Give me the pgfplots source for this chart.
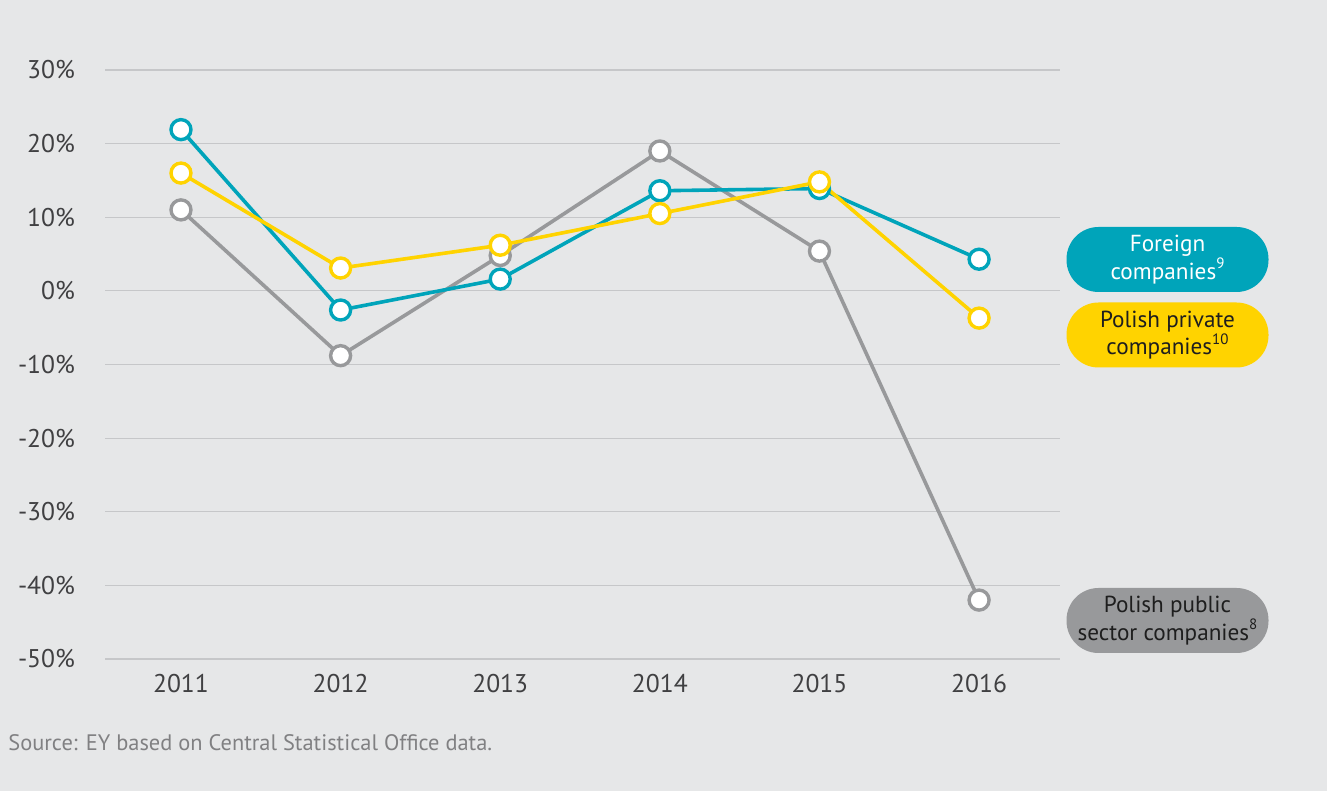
\documentclass[border=0pt]{standalone}
\usepackage{pgfplots}
\pgfplotsset{compat=1.18}
\usepackage{fontspec}
\setmainfont{PT Sans}
\definecolor{bg}{RGB}{230,231,232}
\definecolor{gridc}{RGB}{198,199,201}
\definecolor{teal}{RGB}{0,164,186}
\definecolor{eyyellow}{RGB}{255,211,0}
\definecolor{eygrey}{RGB}{152,153,155}
\definecolor{ticktxt}{RGB}{64,64,66}
\definecolor{srctxt}{RGB}{128,128,130}
\definecolor{darktxt}{RGB}{30,30,30}
\begin{document}
\begin{tikzpicture}
\path[use as bounding box, fill=bg] (0,0) rectangle (663.5pt,395.5pt);
\begin{axis}[
  at={(52.5pt,66pt)}, anchor=south west,
  scale only axis, width=477.5pt, height=294.5pt,
  xmin=2010.524, xmax=2016.507, ymin=-50, ymax=30,
  axis line style={draw=none},
  tick style={draw=none},
  ytick={-50,-40,-30,-20,-10,0,10,20,30},
  yticklabels={-50\%,-40\%,-30\%,-20\%,-10\%,0\%,10\%,20\%,30\%},
  xtick={2011,2012,2013,2014,2015,2016},
  xticklabels={2011,2012,2013,2014,2015,2016},
  ymajorgrids,
  major grid style={gridc, line width=0.6pt},
  ticklabel style={font=\fontsize{12.8}{14}\selectfont, text=ticktxt},
  yticklabel style={anchor=east, xshift=-11.5pt},
  xticklabel style={anchor=north, yshift=-4pt},
  every axis plot/.append style={line width=1.8pt, mark=*, mark size=5pt,
     mark options={fill=white, line width=1.7pt}},
]
\addplot[color=eygrey] coordinates {(2011,11.0) (2012,-8.8) (2013,4.8) (2014,19.0) (2015,5.4) (2016,-42.0)};
\addplot[color=teal] coordinates {(2011,21.9) (2012,-2.6) (2013,1.6) (2014,13.6) (2015,13.9) (2016,4.3)};
\addplot[color=eyyellow] coordinates {(2011,16.0) (2012,3.1) (2013,6.2) (2014,10.5) (2015,14.8) (2016,-3.7)};
\end{axis}
\tikzset{pill/.style={rounded corners=16pt, minimum width=101pt, minimum height=32.5pt, inner sep=0pt, align=center, font=\fontsize{11.6}{12}\selectfont}}
\newcommand{\sups}[1]{\raisebox{0.45em}{\fontsize{7.5}{8}\selectfont #1}}
\node[pill, fill=teal, text=white] at (583.75pt,265.75pt) {Foreign\\companies\sups{9}};
\node[pill, fill=eyyellow, text=darktxt] at (583.75pt,228pt) {Polish private\\companies\sups{10}};
\node[pill, fill=eygrey, text=darktxt] at (583.75pt,85.25pt) {Polish public\\sector companies\sups{8}};
\node[anchor=west, inner sep=0pt, text=srctxt, font=\fontsize{11.2}{13}\selectfont] at (4pt,24pt) {Source: EY based on Central Statistical Office data.};
\end{tikzpicture}
\end{document}
